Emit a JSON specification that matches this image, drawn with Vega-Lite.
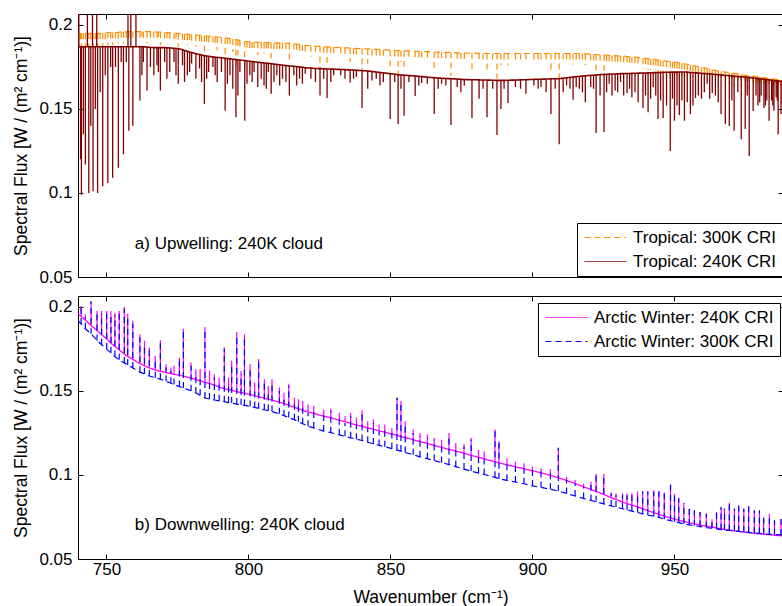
{
  "$schema": "https://vega.github.io/schema/vega-lite/v6.json",
  "autosize": {"type": "pad"},
  "padding": {"left": 12, "top": 13, "right": 0, "bottom": 5},
  "background": "white",
  "datasets": {
    "trop": [
      {"w":740.0,"r0":0.186,"r":0.186,"o0":0.193,"o":0.193},
      {"w":740.3,"r0":0.187,"r":0.25,"o0":0.195,"o":0.186},
      {"w":740.9,"r0":0.187,"r":0.12,"o0":0.195,"o":0.19},
      {"w":741.2,"r0":0.187,"r":0.099,"o0":0.195,"o":0.184},
      {"w":741.9,"r0":0.187,"r":0.135,"o0":0.195,"o":0.19},
      {"w":742.6,"r0":0.187,"r":0.117,"o0":0.195,"o":0.186},
      {"w":743.3,"r0":0.187,"r":0.25,"o0":0.195,"o":0.195},
      {"w":743.8,"r0":0.187,"r":0.1,"o0":0.195,"o":0.185},
      {"w":744.5,"r0":0.187,"r":0.14,"o0":0.195,"o":0.19},
      {"w":745.1,"r0":0.187,"r":0.25,"o0":0.195,"o":0.195},
      {"w":745.3,"r0":0.187,"r":0.101,"o0":0.195,"o":0.184},
      {"w":746.1,"r0":0.187,"r":0.15,"o0":0.195,"o":0.19},
      {"w":746.6,"r0":0.187,"r":0.25,"o0":0.195,"o":0.195},
      {"w":746.9,"r0":0.187,"r":0.1,"o0":0.195,"o":0.186},
      {"w":747.8,"r0":0.187,"r":0.16,"o0":0.195,"o":0.19},
      {"w":748.7,"r0":0.187,"r":0.104,"o0":0.195,"o":0.187},
      {"w":749.6,"r0":0.187,"r":0.17,"o0":0.195,"o":0.19},
      {"w":750.5,"r0":0.187,"r":0.106,"o0":0.1955,"o":0.188},
      {"w":751.5,"r0":0.187,"r":0.175,"o0":0.1955,"o":0.191},
      {"w":752.2,"r0":0.187,"r":0.109,"o0":0.1955,"o":0.188},
      {"w":753.2,"r0":0.187,"r":0.175,"o0":0.1955,"o":0.191},
      {"w":754.2,"r0":0.187,"r":0.115,"o0":0.1955,"o":0.189},
      {"w":755.2,"r0":0.187,"r":0.178,"o0":0.196,"o":0.191},
      {"w":756.0,"r0":0.187,"r":0.123,"o0":0.196,"o":0.189},
      {"w":757.0,"r0":0.187,"r":0.178,"o0":0.196,"o":0.191},
      {"w":757.6,"r0":0.187,"r":0.25,"o0":0.196,"o":0.196},
      {"w":757.9,"r0":0.187,"r":0.137,"o0":0.196,"o":0.19},
      {"w":758.6,"r0":0.187,"r":0.25,"o0":0.196,"o":0.196},
      {"w":759.3,"r0":0.187,"r":0.14,"o0":0.196,"o":0.19},
      {"w":760.4,"r0":0.187,"r":0.25,"o0":0.196,"o":0.196},
      {"w":761.8,"r0":0.187,"r":0.155,"o0":0.196,"o":0.19},
      {"w":762.5,"r0":0.187,"r":0.17,"o0":0.196,"o":0.193},
      {"w":763.0,"r0":0.187,"r":0.178,"o0":0.196,"o":0.192},
      {"w":764.3,"r0":0.1868,"r":0.161,"o0":0.196,"o":0.189},
      {"w":765.5,"r0":0.1866,"r":0.175,"o0":0.196,"o":0.192},
      {"w":766.7,"r0":0.1865,"r":0.17,"o0":0.196,"o":0.19},
      {"w":767.8,"r0":0.1865,"r":0.176,"o0":0.1958,"o":0.192},
      {"w":768.3,"r0":0.1865,"r":0.172,"o0":0.1958,"o":0.193},
      {"w":769.0,"r0":0.1865,"r":0.161,"o0":0.1957,"o":0.188},
      {"w":770.5,"r0":0.1865,"r":0.178,"o0":0.1955,"o":0.191},
      {"w":771.3,"r0":0.1864,"r":0.168,"o0":0.1954,"o":0.192},
      {"w":772.3,"r0":0.1863,"r":0.172,"o0":0.1953,"o":0.19},
      {"w":773.8,"r0":0.1861,"r":0.178,"o0":0.1951,"o":0.191},
      {"w":774.5,"r0":0.186,"r":0.17,"o0":0.195,"o":0.192},
      {"w":775.3,"r0":0.186,"r":0.165,"o0":0.1949,"o":0.187},
      {"w":776.8,"r0":0.1852,"r":0.176,"o0":0.1947,"o":0.19},
      {"w":777.5,"r0":0.1848,"r":0.166,"o0":0.1946,"o":0.19},
      {"w":778.5,"r0":0.1843,"r":0.17,"o0":0.1945,"o":0.188},
      {"w":779.3,"r0":0.1839,"r":0.172,"o0":0.1943,"o":0.191},
      {"w":780.0,"r0":0.1835,"r":0.177,"o0":0.1942,"o":0.19},
      {"w":781.5,"r0":0.1829,"r":0.168,"o0":0.194,"o":0.187},
      {"w":782.8,"r0":0.1824,"r":0.174,"o0":0.1938,"o":0.189},
      {"w":783.5,"r0":0.1821,"r":0.166,"o0":0.1937,"o":0.188},
      {"w":784.5,"r0":0.1817,"r":0.153,"o0":0.1935,"o":0.18},
      {"w":785.3,"r0":0.1815,"r":0.168,"o0":0.1934,"o":0.189},
      {"w":786.0,"r0":0.1813,"r":0.172,"o0":0.1933,"o":0.188},
      {"w":787.5,"r0":0.181,"r":0.175,"o0":0.1931,"o":0.188},
      {"w":788.3,"r0":0.1808,"r":0.17,"o0":0.193,"o":0.188},
      {"w":789.0,"r0":0.1807,"r":0.166,"o0":0.1928,"o":0.185},
      {"w":790.5,"r0":0.1804,"r":0.172,"o0":0.1925,"o":0.188},
      {"w":791.8,"r0":0.1802,"r":0.149,"o0":0.1922,"o":0.178},
      {"w":792.6,"r0":0.18,"r":0.165,"o0":0.1921,"o":0.186},
      {"w":793.5,"r0":0.1798,"r":0.17,"o0":0.1919,"o":0.186},
      {"w":794.5,"r0":0.1796,"r":0.162,"o0":0.1916,"o":0.184},
      {"w":795.6,"r0":0.1794,"r":0.145,"o0":0.1912,"o":0.176},
      {"w":796.3,"r0":0.1792,"r":0.158,"o0":0.191,"o":0.182},
      {"w":797.0,"r0":0.1791,"r":0.172,"o0":0.1908,"o":0.185},
      {"w":798.7,"r0":0.1788,"r":0.143,"o0":0.1903,"o":0.175},
      {"w":799.5,"r0":0.1786,"r":0.165,"o0":0.1901,"o":0.184},
      {"w":800.5,"r0":0.1784,"r":0.17,"o0":0.1899,"o":0.186},
      {"w":801.3,"r0":0.1782,"r":0.166,"o0":0.1898,"o":0.185},
      {"w":802.0,"r0":0.1781,"r":0.172,"o0":0.1898,"o":0.186},
      {"w":803.3,"r0":0.1778,"r":0.163,"o0":0.1897,"o":0.182},
      {"w":804.5,"r0":0.1776,"r":0.168,"o0":0.1896,"o":0.185},
      {"w":805.5,"r0":0.1774,"r":0.164,"o0":0.1896,"o":0.183},
      {"w":806.3,"r0":0.1773,"r":0.162,"o0":0.1895,"o":0.184},
      {"w":807.0,"r0":0.1771,"r":0.172,"o0":0.1895,"o":0.185},
      {"w":808.0,"r0":0.1769,"r":0.159,"o0":0.1894,"o":0.18},
      {"w":809.0,"r0":0.1767,"r":0.166,"o0":0.1893,"o":0.184},
      {"w":810.0,"r0":0.1765,"r":0.17,"o0":0.1893,"o":0.185},
      {"w":811.0,"r0":0.1763,"r":0.164,"o0":0.1892,"o":0.184},
      {"w":812.0,"r0":0.1761,"r":0.168,"o0":0.1892,"o":0.184},
      {"w":813.2,"r0":0.1758,"r":0.166,"o0":0.1891,"o":0.184},
      {"w":814.4,"r0":0.1756,"r":0.158,"o0":0.189,"o":0.179},
      {"w":816.0,"r0":0.1754,"r":0.17,"o0":0.189,"o":0.184},
      {"w":817.0,"r0":0.1752,"r":0.164,"o0":0.1886,"o":0.183},
      {"w":818.0,"r0":0.175,"r":0.168,"o0":0.1882,"o":0.183},
      {"w":819.0,"r0":0.1748,"r":0.165,"o0":0.188,"o":0.183},
      {"w":820.0,"r0":0.1745,"r":0.171,"o0":0.1878,"o":0.184},
      {"w":822.0,"r0":0.1743,"r":0.168,"o0":0.1876,"o":0.181},
      {"w":823.6,"r0":0.1741,"r":0.166,"o0":0.1874,"o":0.182},
      {"w":825.2,"r0":0.174,"r":0.158,"o0":0.1872,"o":0.1738},
      {"w":826.5,"r0":0.1739,"r":0.168,"o0":0.187,"o":0.182},
      {"w":827.7,"r0":0.1738,"r":0.1565,"o0":0.1869,"o":0.175},
      {"w":829.0,"r0":0.1737,"r":0.166,"o0":0.1868,"o":0.181},
      {"w":830.0,"r0":0.1737,"r":0.17,"o0":0.1867,"o":0.182},
      {"w":832.5,"r0":0.1735,"r":0.17,"o0":0.1865,"o":0.182},
      {"w":834.0,"r0":0.1734,"r":0.168,"o0":0.1864,"o":0.181},
      {"w":835.8,"r0":0.1732,"r":0.1657,"o0":0.1863,"o":0.178},
      {"w":837.0,"r0":0.1731,"r":0.168,"o0":0.1861,"o":0.181},
      {"w":838.0,"r0":0.173,"r":0.169,"o0":0.186,"o":0.181},
      {"w":840.0,"r0":0.1728,"r":0.1506,"o0":0.1859,"o":0.1726},
      {"w":842.0,"r0":0.1726,"r":0.162,"o0":0.1857,"o":0.177},
      {"w":843.5,"r0":0.1723,"r":0.167,"o0":0.1855,"o":0.18},
      {"w":845.0,"r0":0.172,"r":0.168,"o0":0.1854,"o":0.181},
      {"w":846.3,"r0":0.1717,"r":0.164,"o0":0.1853,"o":0.18},
      {"w":847.5,"r0":0.1715,"r":0.166,"o0":0.1852,"o":0.18},
      {"w":849.9,"r0":0.171,"r":0.144,"o0":0.185,"o":0.1746},
      {"w":851.5,"r0":0.1707,"r":0.166,"o0":0.1848,"o":0.181},
      {"w":852.7,"r0":0.1704,"r":0.141,"o0":0.1847,"o":0.168},
      {"w":853.7,"r0":0.1702,"r":0.162,"o0":0.1846,"o":0.178},
      {"w":854.8,"r0":0.1701,"r":0.146,"o0":0.1846,"o":0.1726},
      {"w":856.5,"r0":0.1699,"r":0.166,"o0":0.1845,"o":0.181},
      {"w":858.7,"r0":0.1696,"r":0.1577,"o0":0.1843,"o":0.1798},
      {"w":860.0,"r0":0.1694,"r":0.164,"o0":0.1842,"o":0.179},
      {"w":861.0,"r0":0.1693,"r":0.1655,"o0":0.1842,"o":0.179},
      {"w":863.0,"r0":0.1689,"r":0.165,"o0":0.1841,"o":0.18},
      {"w":865.4,"r0":0.1686,"r":0.147,"o0":0.1839,"o":0.1726},
      {"w":866.8,"r0":0.1684,"r":0.162,"o0":0.1838,"o":0.178},
      {"w":868.0,"r0":0.1683,"r":0.165,"o0":0.1838,"o":0.179},
      {"w":869.5,"r0":0.1681,"r":0.164,"o0":0.1837,"o":0.179},
      {"w":871.3,"r0":0.168,"r":0.1405,"o0":0.1836,"o":0.1696},
      {"w":873.5,"r0":0.1678,"r":0.163,"o0":0.1834,"o":0.178},
      {"w":874.8,"r0":0.1676,"r":0.16,"o0":0.1833,"o":0.178},
      {"w":876.0,"r0":0.1675,"r":0.164,"o0":0.1833,"o":0.179},
      {"w":878.7,"r0":0.1674,"r":0.1446,"o0":0.1832,"o":0.1726},
      {"w":881.2,"r0":0.1673,"r":0.156,"o0":0.1831,"o":0.178},
      {"w":882.6,"r0":0.1672,"r":0.162,"o0":0.183,"o":0.178},
      {"w":884.0,"r0":0.1672,"r":0.145,"o0":0.183,"o":0.1726},
      {"w":886.0,"r0":0.1671,"r":0.162,"o0":0.183,"o":0.179},
      {"w":887.5,"r0":0.167,"r":0.1345,"o0":0.183,"o":0.168},
      {"w":888.9,"r0":0.167,"r":0.15,"o0":0.183,"o":0.176},
      {"w":890.0,"r0":0.167,"r":0.162,"o0":0.183,"o":0.178},
      {"w":891.4,"r0":0.1671,"r":0.1536,"o0":0.183,"o":0.176},
      {"w":894.0,"r0":0.1672,"r":0.163,"o0":0.183,"o":0.178},
      {"w":895.8,"r0":0.1673,"r":0.162,"o0":0.183,"o":0.178},
      {"w":897.7,"r0":0.1674,"r":0.159,"o0":0.183,"o":0.177},
      {"w":900.5,"r0":0.1676,"r":0.164,"o0":0.183,"o":0.179},
      {"w":902.0,"r0":0.1677,"r":0.162,"o0":0.183,"o":0.178},
      {"w":903.0,"r0":0.1677,"r":0.163,"o0":0.183,"o":0.178},
      {"w":904.8,"r0":0.1678,"r":0.16,"o0":0.183,"o":0.177},
      {"w":906.5,"r0":0.1679,"r":0.147,"o0":0.183,"o":0.1726},
      {"w":908.0,"r0":0.168,"r":0.162,"o0":0.183,"o":0.178},
      {"w":909.4,"r0":0.168,"r":0.129,"o0":0.183,"o":0.168},
      {"w":910.8,"r0":0.1683,"r":0.16,"o0":0.183,"o":0.177},
      {"w":912.0,"r0":0.1685,"r":0.164,"o0":0.183,"o":0.179},
      {"w":913.2,"r0":0.1688,"r":0.162,"o0":0.183,"o":0.178},
      {"w":914.3,"r0":0.169,"r":0.1554,"o0":0.183,"o":0.1765},
      {"w":915.4,"r0":0.1692,"r":0.163,"o0":0.183,"o":0.178},
      {"w":916.5,"r0":0.1694,"r":0.162,"o0":0.183,"o":0.179},
      {"w":917.6,"r0":0.1696,"r":0.16,"o0":0.1829,"o":0.177},
      {"w":918.6,"r0":0.1697,"r":0.154,"o0":0.1828,"o":0.176},
      {"w":920.5,"r0":0.17,"r":0.163,"o0":0.1826,"o":0.179},
      {"w":921.5,"r0":0.1701,"r":0.162,"o0":0.1825,"o":0.177},
      {"w":922.4,"r0":0.1702,"r":0.1357,"o0":0.1824,"o":0.17},
      {"w":923.8,"r0":0.1704,"r":0.158,"o0":0.1822,"o":0.176},
      {"w":925.2,"r0":0.1706,"r":0.1363,"o0":0.1821,"o":0.17},
      {"w":926.1,"r0":0.1706,"r":0.16,"o0":0.182,"o":0.177},
      {"w":927.0,"r0":0.1707,"r":0.165,"o0":0.1819,"o":0.178},
      {"w":928.0,"r0":0.1708,"r":0.158,"o0":0.1818,"o":0.176},
      {"w":929.1,"r0":0.1708,"r":0.161,"o0":0.1817,"o":0.178},
      {"w":930.0,"r0":0.1709,"r":0.16,"o0":0.1816,"o":0.176},
      {"w":931.0,"r0":0.171,"r":0.166,"o0":0.1815,"o":0.178},
      {"w":932.1,"r0":0.171,"r":0.158,"o0":0.1814,"o":0.176},
      {"w":933.3,"r0":0.1711,"r":0.1595,"o0":0.1812,"o":0.177},
      {"w":934.2,"r0":0.1711,"r":0.162,"o0":0.1811,"o":0.176},
      {"w":935.0,"r0":0.1712,"r":0.157,"o0":0.181,"o":0.176},
      {"w":936.1,"r0":0.1712,"r":0.16,"o0":0.1808,"o":0.175},
      {"w":937.2,"r0":0.1713,"r":0.154,"o0":0.1806,"o":0.175},
      {"w":938.9,"r0":0.1714,"r":0.1506,"o0":0.1803,"o":0.174},
      {"w":939.8,"r0":0.1714,"r":0.158,"o0":0.1801,"o":0.174},
      {"w":940.7,"r0":0.1715,"r":0.148,"o0":0.1799,"o":0.173},
      {"w":941.6,"r0":0.1715,"r":0.156,"o0":0.1797,"o":0.173},
      {"w":942.5,"r0":0.1716,"r":0.163,"o0":0.1795,"o":0.176},
      {"w":943.4,"r0":0.1716,"r":0.158,"o0":0.1793,"o":0.173},
      {"w":944.2,"r0":0.1717,"r":0.144,"o0":0.1791,"o":0.172},
      {"w":945.1,"r0":0.1717,"r":0.155,"o0":0.1789,"o":0.172},
      {"w":946.0,"r0":0.1718,"r":0.1446,"o0":0.1787,"o":0.172},
      {"w":947.2,"r0":0.1718,"r":0.152,"o0":0.1784,"o":0.171},
      {"w":948.5,"r0":0.1719,"r":0.125,"o0":0.1782,"o":0.168},
      {"w":949.3,"r0":0.1719,"r":0.156,"o0":0.1781,"o":0.171},
      {"w":950.0,"r0":0.1719,"r":0.143,"o0":0.1779,"o":0.171},
      {"w":950.9,"r0":0.1719,"r":0.152,"o0":0.1777,"o":0.17},
      {"w":951.7,"r0":0.172,"r":0.1464,"o0":0.1775,"o":0.171},
      {"w":952.6,"r0":0.172,"r":0.155,"o0":0.1772,"o":0.17},
      {"w":953.5,"r0":0.172,"r":0.143,"o0":0.1769,"o":0.168},
      {"w":954.5,"r0":0.1719,"r":0.154,"o0":0.1766,"o":0.17},
      {"w":955.6,"r0":0.1717,"r":0.147,"o0":0.1762,"o":0.17},
      {"w":956.5,"r0":0.1716,"r":0.152,"o0":0.1758,"o":0.169},
      {"w":957.4,"r0":0.1715,"r":0.1565,"o0":0.1755,"o":0.171},
      {"w":958.4,"r0":0.1714,"r":0.158,"o0":0.1751,"o":0.169},
      {"w":959.5,"r0":0.1712,"r":0.156,"o0":0.1747,"o":0.17},
      {"w":960.5,"r0":0.1711,"r":0.16,"o0":0.1744,"o":0.169},
      {"w":961.5,"r0":0.171,"r":0.165,"o0":0.174,"o":0.169},
      {"w":962.4,"r0":0.1709,"r":0.156,"o0":0.1737,"o":0.168},
      {"w":963.3,"r0":0.1707,"r":0.1595,"o0":0.1733,"o":0.168},
      {"w":964.4,"r0":0.1706,"r":0.158,"o0":0.173,"o":0.167},
      {"w":965.4,"r0":0.1704,"r":0.154,"o0":0.1726,"o":0.168},
      {"w":966.4,"r0":0.1702,"r":0.147,"o0":0.1723,"o":0.166},
      {"w":967.9,"r0":0.17,"r":0.141,"o0":0.1719,"o":0.165},
      {"w":969.3,"r0":0.1698,"r":0.1399,"o0":0.1716,"o":0.165},
      {"w":970.2,"r0":0.1697,"r":0.155,"o0":0.1714,"o":0.165},
      {"w":971.0,"r0":0.1695,"r":0.137,"o0":0.1712,"o":0.163},
      {"w":972.3,"r0":0.1693,"r":0.16,"o0":0.1709,"o":0.167},
      {"w":973.5,"r0":0.1692,"r":0.132,"o0":0.1706,"o":0.163},
      {"w":974.9,"r0":0.169,"r":0.138,"o0":0.1701,"o":0.164},
      {"w":975.6,"r0":0.1689,"r":0.158,"o0":0.1699,"o":0.165},
      {"w":976.3,"r0":0.1688,"r":0.122,"o0":0.1698,"o":0.162},
      {"w":977.7,"r0":0.1685,"r":0.1488,"o0":0.1695,"o":0.165},
      {"w":978.7,"r0":0.1683,"r":0.158,"o0":0.1693,"o":0.166},
      {"w":979.4,"r0":0.1681,"r":0.152,"o0":0.1691,"o":0.165},
      {"w":980.0,"r0":0.168,"r":0.154,"o0":0.1689,"o":0.164},
      {"w":980.5,"r0":0.1679,"r":0.158,"o0":0.1688,"o":0.166},
      {"w":981.5,"r0":0.1677,"r":0.1506,"o0":0.1686,"o":0.165},
      {"w":982.0,"r0":0.1676,"r":0.152,"o0":0.1685,"o":0.163},
      {"w":982.5,"r0":0.1675,"r":0.155,"o0":0.1684,"o":0.166},
      {"w":983.3,"r0":0.1673,"r":0.143,"o0":0.1682,"o":0.162},
      {"w":984.2,"r0":0.1671,"r":0.155,"o0":0.168,"o":0.165},
      {"w":984.6,"r0":0.167,"r":0.152,"o0":0.1679,"o":0.163},
      {"w":985.0,"r0":0.1669,"r":0.149,"o0":0.1678,"o":0.164},
      {"w":985.8,"r0":0.1668,"r":0.157,"o0":0.1676,"o":0.165},
      {"w":986.2,"r0":0.1667,"r":0.155,"o0":0.1675,"o":0.163},
      {"w":986.5,"r0":0.1666,"r":0.135,"o0":0.1674,"o":0.16},
      {"w":987.5,"r0":0.1665,"r":0.147,"o0":0.1672,"o":0.164},
      {"w":987.9,"r0":0.1664,"r":0.153,"o0":0.1671,"o":0.163},
      {"w":988.2,"r0":0.1664,"r":0.1664,"o0":0.167,"o":0.167}
    ],
    "arc": [
      {"w":740.0,"m0":0.196,"m":0.196,"b0":0.192,"b":0.192},
      {"w":741.1,"m0":0.1945,"m":0.2006,"b0":0.1898,"b":0.2},
      {"w":742.6,"m0":0.192,"m":0.1957,"b0":0.187,"b":0.194},
      {"w":744.6,"m0":0.189,"m":0.2026,"b0":0.184,"b":0.2035},
      {"w":746.7,"m0":0.186,"m":0.1976,"b0":0.18,"b":0.197},
      {"w":748.3,"m0":0.1835,"m":0.1976,"b0":0.1775,"b":0.196},
      {"w":750.1,"m0":0.181,"m":0.1975,"b0":0.1749,"b":0.196},
      {"w":751.6,"m0":0.1785,"m":0.1975,"b0":0.1726,"b":0.195},
      {"w":753.0,"m0":0.1765,"m":0.1966,"b0":0.1705,"b":0.195},
      {"w":754.5,"m0":0.1745,"m":0.1976,"b0":0.1685,"b":0.196},
      {"w":756.3,"m0":0.172,"m":0.2,"b0":0.1667,"b":0.199},
      {"w":757.5,"m0":0.1705,"m":0.196,"b0":0.1655,"b":0.194},
      {"w":759.3,"m0":0.1688,"m":0.1917,"b0":0.1637,"b":0.19},
      {"w":761.8,"m0":0.1662,"m":0.1838,"b0":0.1612,"b":0.182},
      {"w":763.4,"m0":0.165,"m":0.1798,"b0":0.1601,"b":0.178},
      {"w":765.1,"m0":0.1637,"m":0.1758,"b0":0.1589,"b":0.174},
      {"w":767.2,"m0":0.1625,"m":0.1708,"b0":0.1579,"b":0.169},
      {"w":769.0,"m0":0.1617,"m":0.1802,"b0":0.157,"b":0.179},
      {"w":771.0,"m0":0.161,"m":0.1659,"b0":0.1558,"b":0.164},
      {"w":772.7,"m0":0.1603,"m":0.1639,"b0":0.1546,"b":0.162},
      {"w":773.8,"m0":0.1599,"m":0.165,"b0":0.1538,"b":0.16},
      {"w":775.7,"m0":0.1593,"m":0.1698,"b0":0.1526,"b":0.168},
      {"w":777.1,"m0":0.1588,"m":0.187,"b0":0.1517,"b":0.186},
      {"w":779.8,"m0":0.1576,"m":0.1669,"b0":0.1501,"b":0.165},
      {"w":781.5,"m0":0.1568,"m":0.1629,"b0":0.1488,"b":0.161},
      {"w":783.0,"m0":0.156,"m":0.163,"b0":0.1475,"b":0.158},
      {"w":784.7,"m0":0.1552,"m":0.188,"b0":0.1458,"b":0.187},
      {"w":786.3,"m0":0.1545,"m":0.162,"b0":0.1452,"b":0.157},
      {"w":788.0,"m0":0.1535,"m":0.16,"b0":0.1446,"b":0.158},
      {"w":789.7,"m0":0.1522,"m":0.158,"b0":0.1441,"b":0.155},
      {"w":791.5,"m0":0.1514,"m":0.176,"b0":0.1436,"b":0.175},
      {"w":793.0,"m0":0.1508,"m":0.158,"b0":0.1431,"b":0.153},
      {"w":794.1,"m0":0.1504,"m":0.168,"b0":0.1428,"b":0.166},
      {"w":795.9,"m0":0.1496,"m":0.1851,"b0":0.1422,"b":0.184},
      {"w":797.4,"m0":0.149,"m":0.1619,"b0":0.1418,"b":0.16},
      {"w":798.6,"m0":0.1486,"m":0.1838,"b0":0.1414,"b":0.183},
      {"w":800.6,"m0":0.1478,"m":0.166,"b0":0.1408,"b":0.164},
      {"w":802.2,"m0":0.1471,"m":0.155,"b0":0.1402,"b":0.152},
      {"w":803.6,"m0":0.1466,"m":0.169,"b0":0.1396,"b":0.167},
      {"w":805.6,"m0":0.1457,"m":0.157,"b0":0.1388,"b":0.155},
      {"w":807.0,"m0":0.1451,"m":0.153,"b0":0.1383,"b":0.15},
      {"w":808.3,"m0":0.1446,"m":0.157,"b0":0.1377,"b":0.155},
      {"w":810.9,"m0":0.1433,"m":0.152,"b0":0.1364,"b":0.15},
      {"w":812.5,"m0":0.1425,"m":0.149,"b0":0.1353,"b":0.146},
      {"w":814.2,"m0":0.1415,"m":0.1543,"b0":0.1342,"b":0.153},
      {"w":816.2,"m0":0.1403,"m":0.146,"b0":0.1328,"b":0.144},
      {"w":817.6,"m0":0.1394,"m":0.145,"b0":0.1317,"b":0.141},
      {"w":819.1,"m0":0.1385,"m":0.144,"b0":0.1305,"b":0.142},
      {"w":821.0,"m0":0.1375,"m":0.142,"b0":0.129,"b":0.137},
      {"w":823.0,"m0":0.1366,"m":0.141,"b0":0.128,"b":0.139},
      {"w":826.5,"m0":0.135,"m":0.139,"b0":0.1261,"b":0.137},
      {"w":829.0,"m0":0.134,"m":0.1395,"b0":0.1252,"b":0.138},
      {"w":832.0,"m0":0.1326,"m":0.137,"b0":0.1239,"b":0.135},
      {"w":834.0,"m0":0.1317,"m":0.135,"b0":0.123,"b":0.131},
      {"w":836.0,"m0":0.1307,"m":0.137,"b0":0.1221,"b":0.135},
      {"w":838.0,"m0":0.1298,"m":0.134,"b0":0.1213,"b":0.13},
      {"w":840.0,"m0":0.129,"m":0.1385,"b0":0.1205,"b":0.137},
      {"w":842.0,"m0":0.1281,"m":0.132,"b0":0.1195,"b":0.128},
      {"w":844.0,"m0":0.1272,"m":0.133,"b0":0.1185,"b":0.131},
      {"w":846.0,"m0":0.1263,"m":0.13,"b0":0.1176,"b":0.126},
      {"w":848.0,"m0":0.1254,"m":0.13,"b0":0.1168,"b":0.128},
      {"w":850.5,"m0":0.1243,"m":0.128,"b0":0.1157,"b":0.125},
      {"w":852.3,"m0":0.1235,"m":0.146,"b0":0.1148,"b":0.146},
      {"w":853.7,"m0":0.1228,"m":0.144,"b0":0.1142,"b":0.144},
      {"w":855.2,"m0":0.1222,"m":0.132,"b0":0.1134,"b":0.13},
      {"w":858.0,"m0":0.121,"m":0.127,"b0":0.112,"b":0.125},
      {"w":860.4,"m0":0.1198,"m":0.125,"b0":0.1108,"b":0.123},
      {"w":863.0,"m0":0.1187,"m":0.124,"b0":0.1097,"b":0.122},
      {"w":865.4,"m0":0.1176,"m":0.122,"b0":0.1086,"b":0.121},
      {"w":868.0,"m0":0.1164,"m":0.121,"b0":0.1074,"b":0.119},
      {"w":870.6,"m0":0.1152,"m":0.125,"b0":0.1062,"b":0.124},
      {"w":873.0,"m0":0.1142,"m":0.119,"b0":0.105,"b":0.117},
      {"w":875.9,"m0":0.1129,"m":0.1185,"b0":0.1035,"b":0.117},
      {"w":878.4,"m0":0.1117,"m":0.122,"b0":0.1023,"b":0.121},
      {"w":881.0,"m0":0.1106,"m":0.115,"b0":0.1011,"b":0.113},
      {"w":883.0,"m0":0.1096,"m":0.114,"b0":0.1003,"b":0.112},
      {"w":886.8,"m0":0.1079,"m":0.127,"b0":0.0986,"b":0.126},
      {"w":888.2,"m0":0.1072,"m":0.12,"b0":0.0978,"b":0.119},
      {"w":891.0,"m0":0.106,"m":0.11,"b0":0.0968,"b":0.108},
      {"w":894.0,"m0":0.1049,"m":0.108,"b0":0.0958,"b":0.106},
      {"w":897.0,"m0":0.1037,"m":0.107,"b0":0.0948,"b":0.105},
      {"w":900.0,"m0":0.1025,"m":0.105,"b0":0.0935,"b":0.103},
      {"w":903.0,"m0":0.1012,"m":0.104,"b0":0.0926,"b":0.102},
      {"w":906.3,"m0":0.0998,"m":0.1035,"b0":0.0915,"b":0.102},
      {"w":909.1,"m0":0.0984,"m":0.1163,"b0":0.0904,"b":0.116},
      {"w":912.0,"m0":0.0967,"m":0.099,"b0":0.089,"b":0.097},
      {"w":915.0,"m0":0.095,"m":0.097,"b0":0.0875,"b":0.095},
      {"w":918.0,"m0":0.093,"m":0.095,"b0":0.086,"b":0.093},
      {"w":920.6,"m0":0.0913,"m":0.096,"b0":0.0848,"b":0.094},
      {"w":922.4,"m0":0.0902,"m":0.1006,"b0":0.084,"b":0.1},
      {"w":925.1,"m0":0.0884,"m":0.1006,"b0":0.0828,"b":0.1},
      {"w":927.7,"m0":0.0865,"m":0.0895,"b0":0.0816,"b":0.089},
      {"w":929.4,"m0":0.0854,"m":0.089,"b0":0.0809,"b":0.088},
      {"w":931.7,"m0":0.0839,"m":0.089,"b0":0.0799,"b":0.088},
      {"w":933.3,"m0":0.0829,"m":0.089,"b0":0.0792,"b":0.088},
      {"w":935.0,"m0":0.0821,"m":0.089,"b0":0.0785,"b":0.088},
      {"w":937.0,"m0":0.081,"m":0.0901,"b0":0.0777,"b":0.089},
      {"w":938.8,"m0":0.0799,"m":0.0905,"b0":0.0769,"b":0.09},
      {"w":940.6,"m0":0.0788,"m":0.0905,"b0":0.0762,"b":0.09},
      {"w":942.7,"m0":0.0776,"m":0.0909,"b0":0.0755,"b":0.09},
      {"w":944.5,"m0":0.0766,"m":0.0905,"b0":0.0748,"b":0.09},
      {"w":946.4,"m0":0.0755,"m":0.0895,"b0":0.0737,"b":0.089},
      {"w":948.6,"m0":0.0744,"m":0.0944,"b0":0.0728,"b":0.094},
      {"w":950.0,"m0":0.0737,"m":0.0885,"b0":0.0722,"b":0.088},
      {"w":951.5,"m0":0.073,"m":0.0865,"b0":0.0716,"b":0.086},
      {"w":953.3,"m0":0.0723,"m":0.0835,"b0":0.0709,"b":0.083},
      {"w":955.2,"m0":0.0716,"m":0.08,"b0":0.0703,"b":0.08},
      {"w":957.0,"m0":0.0709,"m":0.079,"b0":0.0698,"b":0.079},
      {"w":959.0,"m0":0.0702,"m":0.078,"b0":0.0693,"b":0.078},
      {"w":961.2,"m0":0.0696,"m":0.077,"b0":0.0687,"b":0.077},
      {"w":963.2,"m0":0.0689,"m":0.0736,"b0":0.0683,"b":0.074},
      {"w":964.8,"m0":0.0685,"m":0.078,"b0":0.0679,"b":0.078},
      {"w":966.4,"m0":0.0679,"m":0.0806,"b0":0.0675,"b":0.081},
      {"w":967.6,"m0":0.0676,"m":0.0796,"b0":0.0673,"b":0.08},
      {"w":969.3,"m0":0.0671,"m":0.0835,"b0":0.067,"b":0.084},
      {"w":971.1,"m0":0.0667,"m":0.0796,"b0":0.0667,"b":0.08},
      {"w":972.6,"m0":0.0664,"m":0.0815,"b0":0.0664,"b":0.082},
      {"w":974.4,"m0":0.066,"m":0.0796,"b0":0.0661,"b":0.08},
      {"w":976.1,"m0":0.0657,"m":0.0815,"b0":0.0658,"b":0.082},
      {"w":978.1,"m0":0.0653,"m":0.0786,"b0":0.0655,"b":0.079},
      {"w":979.9,"m0":0.065,"m":0.0786,"b0":0.0652,"b":0.079},
      {"w":981.4,"m0":0.0647,"m":0.0746,"b0":0.065,"b":0.075},
      {"w":983.4,"m0":0.0645,"m":0.0766,"b0":0.0647,"b":0.077},
      {"w":985.2,"m0":0.0641,"m":0.0726,"b0":0.0645,"b":0.073},
      {"w":987.5,"m0":0.0638,"m":0.0736,"b0":0.0643,"b":0.074},
      {"w":988.2,"m0":0.0637,"m":0.0637,"b0":0.0642,"b":0.0642}
    ]
  },
  "config": {
    "view": {"stroke": null},
    "font": "Liberation Sans",
    "axis": {
      "grid": false,
      "domainColor": "black",
      "domainWidth": 1,
      "tickColor": "black",
      "tickWidth": 1,
      "tickSize": -5,
      "labelColor": "black",
      "titleColor": "black",
      "labelFont": "Liberation Sans",
      "titleFont": "Liberation Sans",
      "labelFontSize": 17,
      "titleFontSize": 17.5,
      "titleFontWeight": "normal"
    },
    "legend": {
      "labelFont": "Liberation Sans",
      "labelFontSize": 17,
      "labelColor": "black",
      "labelLimit": 400,
      "strokeColor": "black",
      "fillColor": "white",
      "padding": 6,
      "rowPadding": 6,
      "labelOffset": 33,
      "symbolType": "M-1,0H5",
      "symbolSize": 196,
      "symbolStrokeWidth": 1,
      "cornerRadius": 0
    }
  },
  "spacing": 19,
  "bounds": "flush",
  "resolve": {"scale": {"color": "independent", "strokeDash": "independent"}},
  "vconcat": [
    {
      "width": 705,
      "height": 263,
      "layer": [
        {
          "data": {"name": "trop"},
          "layer": [
            {
              "mark": {"type": "line", "clip": true, "strokeWidth": 1.2},
              "encoding": {
                "x": {"field": "w", "type": "quantitative", "scale": {"domain": [740, 988.2], "nice": false, "zero": false},
                      "axis": {"orient": "bottom", "values": [750, 800, 850, 900, 950], "labels": false, "title": null}},
                "y": {"field": "o0", "type": "quantitative", "scale": {"domain": [0.05, 0.2065], "nice": false, "zero": false},
                      "axis": {"orient": "left", "values": [0.05, 0.1, 0.15, 0.2], "format": "~g", "labelPadding": 11,
                               "title": "Spectral Flux [W / (m² cm⁻¹)]", "titlePadding": 8}},
                "color": {"datum": "Tropical: 300K CRI",
                          "scale": {"domain": ["Tropical: 300K CRI", "Tropical: 240K CRI"], "range": ["#ff8c00", "#800000"]},
                          "legend": {"title": null, "orient": "none", "legendX": 499, "legendY": 209}},
                "strokeDash": {"datum": "Tropical: 300K CRI",
                               "scale": {"domain": ["Tropical: 300K CRI", "Tropical: 240K CRI"], "range": [[6, 4], [1, 0]]},
                               "legend": {"title": null, "orient": "none", "legendX": 499, "legendY": 209}}
              }
            },
            {
              "mark": {"type": "rule", "clip": true, "strokeWidth": 1.2},
              "encoding": {
                "x": {"field": "w", "type": "quantitative"},
                "y": {"field": "o0", "type": "quantitative"},
                "y2": {"field": "o"},
                "color": {"datum": "Tropical: 300K CRI"},
                "strokeDash": {"datum": "Tropical: 300K CRI"}
              }
            },
            {
              "mark": {"type": "line", "clip": true, "strokeWidth": 1.6},
              "encoding": {
                "x": {"field": "w", "type": "quantitative"},
                "y": {"field": "r0", "type": "quantitative"},
                "color": {"datum": "Tropical: 240K CRI"},
                "strokeDash": {"datum": "Tropical: 240K CRI"}
              }
            },
            {
              "mark": {"type": "rule", "clip": true, "strokeWidth": 1.3},
              "encoding": {
                "x": {"field": "w", "type": "quantitative"},
                "y": {"field": "r0", "type": "quantitative"},
                "y2": {"field": "r"},
                "color": {"datum": "Tropical: 240K CRI"},
                "strokeDash": {"datum": "Tropical: 240K CRI"}
              }
            }
          ]
        },
        {
          "data": {"values": [{"w": 760, "f": 0.0696, "t": "a) Upwelling: 240K cloud"}]},
          "mark": {"type": "text", "align": "left", "baseline": "middle", "fontSize": 17, "font": "Liberation Sans", "color": "black"},
          "encoding": {
            "x": {"field": "w", "type": "quantitative", "axis": {"orient": "top", "values": [750, 800, 850, 900, 950], "labels": false, "title": null}},
            "y": {"field": "f", "type": "quantitative", "axis": {"orient": "right", "values": [0.05, 0.1, 0.15, 0.2], "labels": false, "title": null, "domain": false}},
            "text": {"field": "t"}
          }
        }
      ],
      "resolve": {"axis": {"x": "independent", "y": "independent"}}
    },
    {
      "width": 705,
      "height": 263,
      "layer": [
        {
          "data": {"name": "arc"},
          "layer": [
            {
              "mark": {"type": "line", "clip": true, "strokeWidth": 1.3},
              "encoding": {
                "x": {"field": "w", "type": "quantitative", "scale": {"domain": [740, 988.2], "nice": false, "zero": false},
                      "axis": {"orient": "bottom", "values": [750, 800, 850, 900, 950], "format": "d", "labelPadding": 7,
                               "title": "Wavenumber (cm⁻¹)", "titlePadding": 11}},
                "y": {"field": "m0", "type": "quantitative", "scale": {"domain": [0.05, 0.2065], "nice": false, "zero": false},
                      "axis": {"orient": "left", "values": [0.05, 0.1, 0.15, 0.2], "format": "~g", "labelPadding": 11,
                               "title": "Spectral Flux [W / (m² cm⁻¹)]", "titlePadding": 8}},
                "color": {"datum": "Arctic Winter: 240K CRI",
                          "scale": {"domain": ["Arctic Winter: 240K CRI", "Arctic Winter: 300K CRI"], "range": ["#ff00ff", "#0000ff"]},
                          "legend": {"title": null, "orient": "none", "legendX": 460, "legendY": 7}},
                "strokeDash": {"datum": "Arctic Winter: 240K CRI",
                               "scale": {"domain": ["Arctic Winter: 240K CRI", "Arctic Winter: 300K CRI"], "range": [[1, 0], [6, 4]]},
                               "legend": {"title": null, "orient": "none", "legendX": 460, "legendY": 7}}
              }
            },
            {
              "mark": {"type": "rule", "clip": true, "strokeWidth": 1.2},
              "encoding": {
                "x": {"field": "w", "type": "quantitative"},
                "y": {"field": "m0", "type": "quantitative"},
                "y2": {"field": "m"},
                "color": {"datum": "Arctic Winter: 240K CRI"},
                "strokeDash": {"datum": "Arctic Winter: 240K CRI"}
              }
            },
            {
              "mark": {"type": "line", "clip": true, "strokeWidth": 1.2},
              "encoding": {
                "x": {"field": "w", "type": "quantitative"},
                "y": {"field": "b0", "type": "quantitative"},
                "color": {"datum": "Arctic Winter: 300K CRI"},
                "strokeDash": {"datum": "Arctic Winter: 300K CRI"}
              }
            },
            {
              "mark": {"type": "rule", "clip": true, "strokeWidth": 1.2},
              "encoding": {
                "x": {"field": "w", "type": "quantitative"},
                "y": {"field": "b0", "type": "quantitative"},
                "y2": {"field": "b"},
                "color": {"datum": "Arctic Winter: 300K CRI"},
                "strokeDash": {"datum": "Arctic Winter: 300K CRI"}
              }
            }
          ]
        },
        {
          "data": {"values": [{"w": 760, "f": 0.0702, "t": "b) Downwelling: 240K cloud"}]},
          "mark": {"type": "text", "align": "left", "baseline": "middle", "fontSize": 17, "font": "Liberation Sans", "color": "black"},
          "encoding": {
            "x": {"field": "w", "type": "quantitative", "axis": {"orient": "top", "values": [750, 800, 850, 900, 950], "labels": false, "title": null}},
            "y": {"field": "f", "type": "quantitative", "axis": {"orient": "right", "values": [0.05, 0.1, 0.15, 0.2], "labels": false, "title": null, "domain": false}},
            "text": {"field": "t"}
          }
        }
      ],
      "resolve": {"axis": {"x": "independent", "y": "independent"}}
    }
  ]
}
